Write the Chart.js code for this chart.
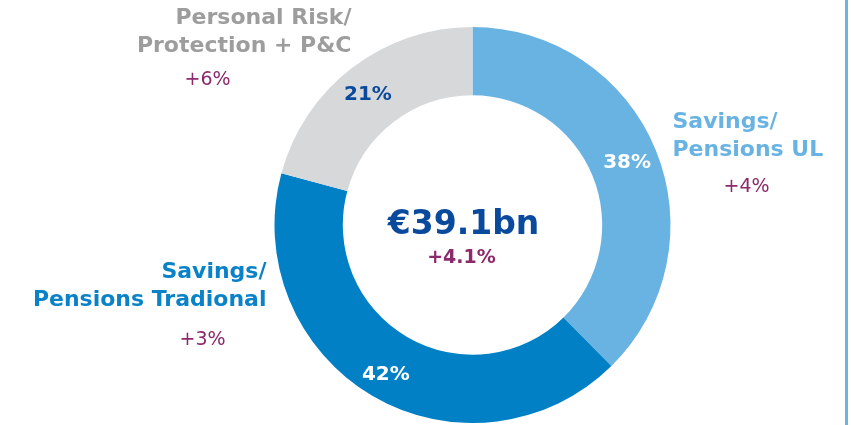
<!DOCTYPE html>
<html>
<head>
<meta charset="utf-8">
<script src="https://cdn.jsdelivr.net/npm/chart.js@4"></script>
<style>
  html, body { margin: 0; padding: 0; background: #fff; }
  #wrap { position: relative; width: 851px; height: 425px; }
  #rule { position: absolute; left: 845px; top: 0; width: 3px; height: 425px; background: #6cb4e4; }
</style>
</head>
<body>
<div id="wrap">
  <canvas id="mixChart" width="851" height="425"></canvas>
  <div id="rule"></div>
</div>
<script>
// data
var categories = [['Savings/', 'Pensions UL'], ['Savings/', 'Pensions Tradional'], ['Personal Risk/', 'Protection + P&C']];
var shares = [38, 42, 21];
var growth = ['+4%', '+3%', '+6%'];
var totalLabel = '€39.1bn';
var totalGrowth = '+4.1%';

var sliceColors = ['#69b3e3', '#0280c6', '#d7d8da'];
var shareColors = ['#ffffff', '#ffffff', '#0a4a9c'];
var labelColors = ['#69b3e3', '#0a82c8', '#9d9d9d'];
var purple = '#8c2a6b';
var FONT = '"DejaVu Sans", Verdana, sans-serif';

// where the outside labels sit, relative to the ring centre
var labelLayout = [
    { align: 'left', x: 200, y: -97, gx: 274, gy: -33 },
    { align: 'right', x: -206, y: 53, gx: -270, gy: 120 },
    { align: 'right', x: -121, y: -201, gx: -265, gy: -140 }
];
// small nudges for the % inside the ring
var shareNudge = [[3, 0], [-4, 8], [-5, 0]];

var textPlugin = {
    id: 'texts',
    afterDraw: function (chart) {
        var c = chart.ctx;
        var arcs = chart.getDatasetMeta(0).data;
        var cx = arcs[0].x, cy = arcs[0].y;
        c.save();

        // centre
        c.textAlign = 'center';
        c.textBaseline = 'alphabetic';
        c.fillStyle = '#0a4a9c';
        c.font = 'bold 33px ' + FONT;
        c.fillText(totalLabel, cx - 9, cy + 9);
        c.fillStyle = purple;
        c.font = 'bold 19px ' + FONT;
        c.fillText(totalGrowth, cx - 11, cy + 38);

        // shares inside ring
        arcs.forEach(function (arc, i) {
            var p = arc.getProps(['startAngle', 'endAngle', 'innerRadius', 'outerRadius'], true);
            var a = (p.startAngle + p.endAngle) / 2;
            var r = (p.innerRadius + p.outerRadius) / 2;
            c.fillStyle = shareColors[i];
            c.font = 'bold 20px ' + FONT;
            c.textBaseline = 'middle';
            c.textAlign = 'center';
            c.fillText(shares[i] + '%', cx + Math.cos(a) * r + shareNudge[i][0], cy + Math.sin(a) * r + shareNudge[i][1]);
        });

        // outside labels
        c.textBaseline = 'alphabetic';
        categories.forEach(function (lines, i) {
            var L = labelLayout[i];
            c.fillStyle = labelColors[i];
            c.font = 'bold 22px ' + FONT;
            c.textAlign = L.align;
            lines.forEach(function (t, k) {
                c.fillText(t, cx + L.x, cy + L.y + k * 28);
            });
            c.fillStyle = purple;
            c.font = '19px ' + FONT;
            c.textAlign = 'center';
            c.fillText(growth[i], cx + L.gx, cy + L.gy);
        });
        c.restore();
    }
};

var ctx = document.getElementById('mixChart');
var myChart = new Chart(ctx, {
    type: 'doughnut',
    data: {
        labels: categories.map(function (l) { return l.join(' '); }),
        datasets: [{
            data: shares,
            backgroundColor: sliceColors,
            borderWidth: 0
        }]
    },
    options: {
        responsive: false,
        animation: false,
        cutout: '65.5%',
        layout: { padding: { left: 94, right: 0, top: 27, bottom: 2 } },
        plugins: {
            legend: { display: false },
            tooltip: { enabled: false }
        }
    },
    plugins: [textPlugin]
});
</script>
</body>
</html>
